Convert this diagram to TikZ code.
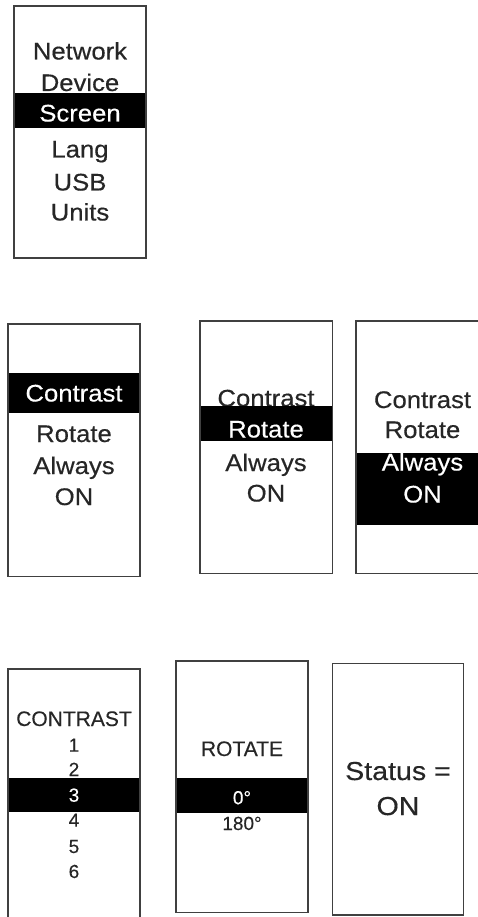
\documentclass[tikz,border=0pt]{standalone}
\usepackage{fontspec}
\setmainfont{Liberation Sans}[FakeBold=0.3]
\newfontfamily\bigf[FakeStretch=1.07,FakeBold=0.4]{Liberation Sans}
\newfontfamily\statf[FakeStretch=1.1,FakeBold=0.4]{Liberation Sans}
\begin{document}
\begin{tikzpicture}[x=1pt,y=-1pt,
  scr/.style={draw=black!75, line width=1.3pt},
  selbar/.style={fill=black},
  lbl/.style={anchor=base, inner sep=0pt, text=black!85, font=\bigf\fontsize{24}{28}\selectfont},
  lblw/.style={lbl, text=white},
  sml/.style={anchor=base, inner sep=0pt, text=black!85, font=\fontsize{21}{25}\selectfont},
  dig/.style={anchor=base, inner sep=0pt, text=black!85, font=\fontsize{19}{22}\selectfont},
  digw/.style={dig, text=white},
  stat/.style={anchor=base, inner sep=0pt, text=black!85, font=\statf\fontsize{26}{30}\selectfont}]
\useasboundingbox (0,0) rectangle (478,917);
\clip (0,0) rectangle (478,917);
\fill[white] (0,0) rectangle (478,917);

% ---- box 1 : main menu
\node[lbl] (b1net) at (80,59.5) {Network};
\node[lbl] (b1dev) at (80,91) {Device};
\node[lbl] (b1lang) at (80,157.5) {Lang};
\node[lbl] (b1usb) at (80,190.5) {USB};
\node[lbl] (b1units) at (80,220.5) {Units};
\fill[selbar] (14,93) rectangle (146,128);
\node[lblw] (b1scr) at (80,121.5) {Screen};
\draw[scr] (14,6) rectangle (146,258);

% ---- box 2
\node[lbl] (b2rot) at (74,442) {Rotate};
\node[lbl] (b2alw) at (74,474) {Always};
\node[lbl] (b2on) at (74,505) {ON};
\fill[selbar] (8,373) rectangle (140,413);
\node[lblw] (b2con) at (74,401.5) {Contrast};
\draw[scr] (8,324) rectangle (140,576.5);

% ---- box 3
\node[lbl] (b3con) at (266,406.5) {Contrast};
\node[lbl] (b3alw) at (266,471) {Always};
\node[lbl] (b3on) at (266,501.5) {ON};
\fill[selbar] (200,406) rectangle (332.5,441);
\node[lblw] (b3rot) at (266,437.5) {Rotate};
\draw[scr] (200,321) rectangle (332.5,573.5);

% ---- box 4
\node[lbl] (b4con) at (422.5,408) {Contrast};
\node[lbl] (b4rot) at (422.5,438) {Rotate};
\fill[selbar] (356,453) rectangle (489,525);
\node[lblw] (b4alw) at (422.5,470.5) {Always};
\node[lblw] (b4on) at (422.5,502.5) {ON};
\draw[scr] (356,321) rectangle (489,573.5);

% ---- box 5
\node[sml] (b5title) at (74,726) {CONTRAST};
\node[dig] (b5one) at (74,751.7) {1};
\node[dig] (b5two) at (74,776) {2};
\node[dig] (b5four) at (74,826.7) {4};
\node[dig] (b5five) at (74,853) {5};
\node[dig] (b5six) at (74,878) {6};
\fill[selbar] (8,778) rectangle (140,812);
\node[digw] (b5three) at (74,801.7) {3};
\draw[scr] (8,669) rectangle (140,930);

% ---- box 6
\node[sml] (b6title) at (242,756) {ROTATE};
\node[dig] (b6oneeighty) at (242,830) {180°};
\fill[selbar] (176,778) rectangle (308,813);
\node[digw] (b6zero) at (242,804.3) {0°};
\draw[scr] (176,661) rectangle (308,912.5);

% ---- box 7
\node[stat] (b7status) at (398,780) {Status =};
\node[stat] (b7on) at (398,815) {ON};
\draw[scr] (332.5,663.5) rectangle (463.5,915);
\end{tikzpicture}
\end{document}
